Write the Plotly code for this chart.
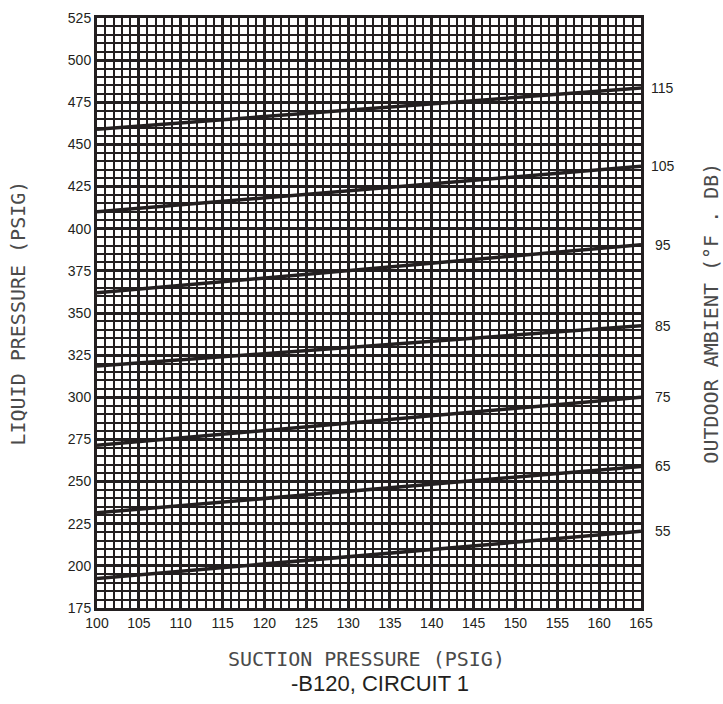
import plotly.graph_objects as go

# Data
suction = [100, 165]                       # suction pressure (psig) endpoints
ambient_labels = ["115", "105", "95", "85", "75", "65", "55"]
liquid_115 = [459, 483.5]
liquid_105 = [410, 437]
liquid_95 = [362, 390.5]
liquid_85 = [318.5, 342.5]
liquid_75 = [271.5, 300]
liquid_65 = [231.5, 259]
liquid_55 = [192.5, 220.5]
series = [liquid_115, liquid_105, liquid_95, liquid_85, liquid_75, liquid_65, liquid_55]

x_ticks = list(range(100, 166, 5))
y_ticks = list(range(175, 526, 25))

INK = "#231f20"

fig = go.Figure()
for vals in series:
    fig.add_trace(go.Scatter(x=suction, y=vals, mode="lines",
                             line=dict(color=INK, width=3.5),
                             showlegend=False, hoverinfo="skip"))

for lab, vals in zip(ambient_labels, series):
    fig.add_annotation(x=1.04, xref="paper", y=vals[-1], yref="y",
                       text=lab, showarrow=False, xanchor="center", yanchor="middle",
                       font=dict(family="Liberation Sans, Arial", size=14, color=INK))

title_font = dict(family="DejaVu Sans Mono", size=20, color="#4a4a4a")

fig.add_annotation(x=-0.146, xref="paper", y=0.5, yref="paper",
                   text="LIQUID PRESSURE (PSIG)", textangle=-90, showarrow=False,
                   xanchor="center", yanchor="middle", font=title_font)
fig.add_annotation(x=1.128, xref="paper", y=0.5, yref="paper",
                   text="OUTDOOR AMBIENT (°F . DB)", textangle=-90, showarrow=False,
                   xanchor="center", yanchor="middle", font=title_font)

fig.add_annotation(x=(366 - 97) / 544, xref="paper", y=-(660 - 608) / 598, yref="paper",
                   text="SUCTION PRESSURE (PSIG)", showarrow=False,
                   xanchor="center", yanchor="middle", font=title_font)
fig.add_annotation(x=(380 - 97) / 544, xref="paper", y=-(685 - 608) / 598, yref="paper",
                   text="-B120, CIRCUIT 1", showarrow=False,
                   xanchor="center", yanchor="middle",
                   font=dict(family="Liberation Sans, Arial", size=22, color=INK))

axis_common = dict(showline=True, linecolor=INK, linewidth=3, mirror=True,
                   gridcolor=INK, gridwidth=3.0, zeroline=False, ticks="",
                   tickfont=dict(family="Liberation Sans, Arial", size=14, color=INK))

fig.update_xaxes(range=[100, 165], tickvals=x_ticks, ticktext=[str(v) for v in x_ticks],
                 minor=dict(dtick=1, showgrid=True, gridcolor=INK, gridwidth=1.6),
                 **axis_common)
fig.update_yaxes(range=[175, 525], tickvals=y_ticks, ticktext=[str(v) for v in y_ticks],
                 minor=dict(dtick=5, showgrid=True, gridcolor=INK, gridwidth=1.6),
                 **axis_common)

fig.update_layout(width=723, height=704,
                  margin=dict(l=97, r=82, t=10, b=96),
                  plot_bgcolor="white", paper_bgcolor="white")

fig.write_html("out.html")
